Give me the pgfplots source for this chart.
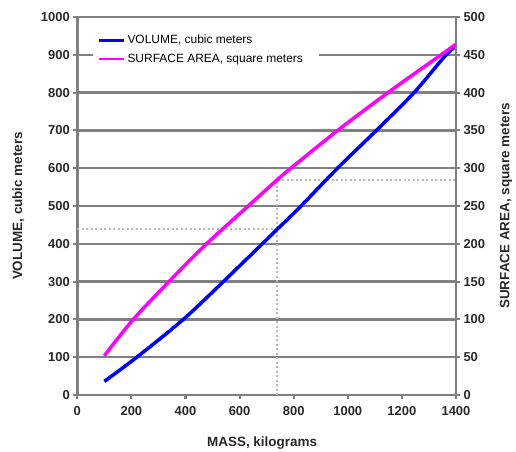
\documentclass[border=0pt]{standalone}
\usepackage{pgfplots}
\pgfplotsset{compat=1.18}
\usepackage{fontspec}
\setmainfont{Liberation Sans}

\definecolor{gridgray}{RGB}{128,128,128}
\definecolor{dotgray}{RGB}{185,185,185}
\definecolor{volblue}{RGB}{0,0,255}
\definecolor{areamag}{RGB}{255,0,255}
\definecolor{ticktext}{RGB}{40,40,40}

% volume (cubic meters) and surface area (square meters) against mass (kg)
\pgfplotstableread{
mass volume
100  36
220  100
392  200
540  300
684  400
737  437
823  497
962  600
1110 703
1245 800
1355 893
1400 924
}\voldata
\pgfplotstableread{
mass area
100  52
207  100
339  150
478  200
632  250
737  284
800  303
970  352
1168 405
1353 452
1400 464
}\areadata

\pgfplotsset{
  common/.style={
    scale only axis, width=378.7bp, height=378bp,
    xmin=0, xmax=1400,
    tick align=outside, major tick length=4bp,
    axis line style={gridgray, line width=2.5bp},
    tick style={gridgray, line width=2bp},
    tick label style={font=\fontsize{13}{15}\selectfont\bfseries, text=ticktext},
    /pgf/number format/assume math mode=true,
    /pgf/number format/1000 sep={},
  },
}

\begin{document}
\begin{tikzpicture}
\useasboundingbox (-77.3bp,-57bp) rectangle (438.7bp,395bp);

\begin{axis}[common,
  ymin=0, ymax=1000, ytick={0,100,...,1000},
  xtick={0,200,...,1400},
  ytick pos=left, xtick pos=bottom,
  ymajorgrids, grid style={gridgray, line width=2.5bp},
  xticklabel style={yshift=-4bp},
  xlabel={MASS, kilograms},
  ylabel={VOLUME, cubic meters},
  every axis x label/.style={at={(axis description cs:0.488,0)}, yshift=-48bp, anchor=center,
    font=\fontsize{13.5}{16}\selectfont\bfseries, text=ticktext},
  every axis y label/.style={at={(axis description cs:0,0.5)}, xshift=-59bp, rotate=90, anchor=center,
    font=\fontsize{13.5}{16}\selectfont\bfseries, text=ticktext},
  legend style={at={(axis description cs:0.041,0.968)}, anchor=north west,
    draw=none, fill=white, font=\fontsize{12}{14}\selectfont,
    row sep=5bp, inner xsep=4bp, inner ysep=4bp},
  legend cell align=left,
  legend image code/.code={\draw[#1] (0cm,0cm) -- (25bp,0cm);},
]
\addplot[dotgray, line width=2bp, dash pattern=on 2bp off 2.5bp, forget plot] coordinates {(0,440) (737,440)};
\addplot[dotgray, line width=2bp, dash pattern=on 2bp off 2.5bp, forget plot] coordinates {(737,0) (737,568) (1400,568)};
\addplot[volblue, line width=3.5bp, smooth] table[x=mass, y=volume] {\voldata};
\addlegendentry{VOLUME, cubic meters}
\addlegendimage{areamag, line width=2bp}
\addlegendentry{SURFACE AREA, square meters\rule{10bp}{0pt}}
\end{axis}

\begin{axis}[common,
  ymin=0, ymax=500, ytick={0,50,...,500},
  axis y line*=right, axis x line=none,
  ylabel={SURFACE AREA, square meters},
  every axis y label/.style={at={(axis description cs:1,0.5)}, xshift=50bp, rotate=90, anchor=center,
    font=\fontsize{13.5}{16}\selectfont\bfseries, text=ticktext},
]
\addplot[areamag, line width=3.5bp, smooth] table[x=mass, y=area] {\areadata};
\end{axis}
\end{tikzpicture}
\end{document}
